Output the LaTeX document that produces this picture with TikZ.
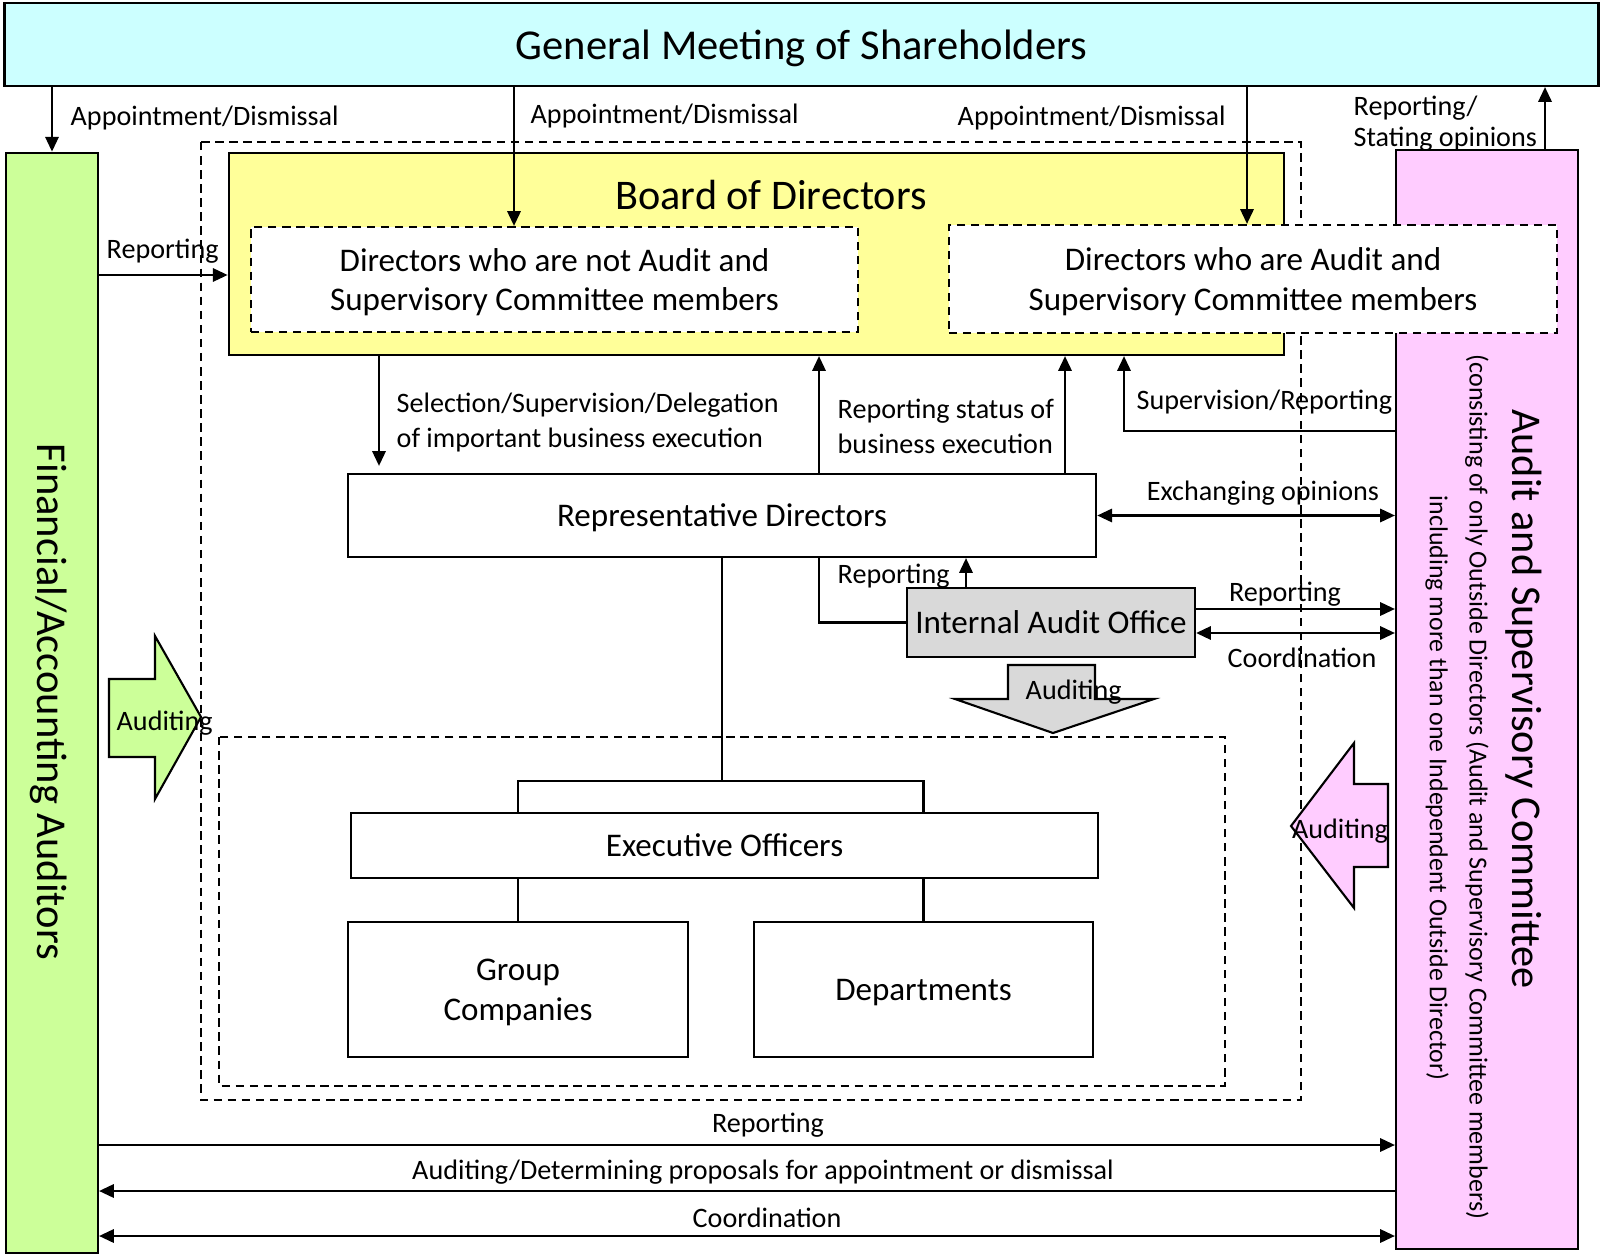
\documentclass[tikz,border=0pt]{standalone}
\usepackage{fontspec}
\setmainfont{Carlito}
\usetikzlibrary{arrows.meta}
\definecolor{meetingcyan}{RGB}{204,255,255}
\definecolor{auditorgreen}{RGB}{204,255,153}
\definecolor{committeepink}{RGB}{255,204,255}
\definecolor{boardyellow}{RGB}{255,255,153}
\definecolor{officegray}{RGB}{217,217,217}

\tikzset{
  box/.style={draw, line width=0.6pt, inner sep=0pt, align=center, text depth=0pt},
  dashbox/.style={box, fill=white, dash pattern=on 2.4pt off 1.6pt},
  arr/.style={line width=0.6pt, -{Triangle[width=3.8pt,length=4.2pt]}},
  twoarr/.style={line width=0.6pt, {Triangle[width=3.8pt,length=4.2pt]}-{Triangle[width=3.8pt,length=4.2pt]}},
  lbl/.style={font=\fontsize{8}{9.8}\selectfont, inner sep=0pt, align=left, yshift=-0.7pt},
  sidetext/.style={rotate=-90, inner sep=0pt},
  boxtext/.style={font=\fontsize{9.4}{11.3}\selectfont},
}

\begin{document}
\begin{tikzpicture}[x=0.01cm,y=-0.01cm]
\useasboundingbox (0,0) rectangle (1600,1255);
% Outer dashed frame
\draw[line width=0.6pt, dash pattern=on 2.4pt off 1.6pt] (201,142) rectangle (1301,1100);
% Draw the big boxes
\node[box, fill=meetingcyan, minimum width=15.93cm, minimum height=0.83cm,
  font=\fontsize{12.1}{13}\selectfont] (meeting) at (801.5,44.5) {General Meeting of Shareholders};
\node[box, fill=auditorgreen, minimum width=0.92cm, minimum height=11cm] (fin) at (52,703) {};
\node[box, fill=committeepink, minimum width=1.82cm, minimum height=10.99cm] (pink) at (1487,699.5) {};
\node[box, fill=boardyellow, minimum width=10.55cm, minimum height=2.02cm] (board) at (756.5,254) {};
\node[font=\fontsize{12}{13}\selectfont] (boardtitle) at (771,195) {Board of Directors};
\node[dashbox, boxtext, minimum width=6.07cm, minimum height=1.05cm] (notac) at (554.5,279.5)
  {Directors who are not Audit and\\Supervisory Committee members};
\node[dashbox, boxtext, minimum width=6.08cm, minimum height=1.08cm] (isac) at (1253,279)
  {Directors who are Audit and\\Supervisory Committee members};
% Rotated side texts
\node[sidetext, font=\fontsize{12.1}{13}\selectfont] (finlbl) at (49,702) {Financial/Accounting Auditors};
\node[sidetext, font=\fontsize{12.05}{13}\selectfont] (acclbl) at (1524,699) {Audit and Supervisory Committee};
\node[sidetext, font=\fontsize{7.4}{8.6}\selectfont] (acc2) at (1477,787) {(consisting of only Outside Directors (Audit and Supervisory Committee members)};
\node[sidetext, font=\fontsize{7.35}{8.6}\selectfont] (acc3) at (1437,788) {including more than one Independent Outside Director)};
% Executive side
\node[box, boxtext, fill=white, minimum width=7.48cm, minimum height=0.83cm] (rep) at (722,515.5) {Representative Directors};
\node[box, fill=officegray, minimum width=2.88cm, minimum height=0.69cm,
  font=\fontsize{9.4}{10}\selectfont] (iao) at (1051,622.5) {Internal Audit Office};
\draw[line width=0.6pt, dash pattern=on 2.4pt off 1.6pt] (219,737) rectangle (1225,1086);
\node[box, boxtext, fill=white, minimum width=7.47cm, minimum height=0.65cm] (exec) at (724.5,845.5) {Executive Officers};
\node[box, boxtext, fill=white, minimum width=3.40cm, minimum height=1.35cm] (group) at (518,989.5) {Group\\Companies};
\node[box, boxtext, fill=white, minimum width=3.39cm, minimum height=1.35cm] (dept) at (923.5,989.5) {Departments};
% Block arrows for auditing
\filldraw[fill=auditorgreen, line width=0.6pt] (109,679) -- (155,679) -- (155,636) -- (201,717)
  -- (155,799) -- (155,757) -- (109,757) -- cycle;
\node[lbl, anchor=west] (audg) at (116,721) {Auditing};
\filldraw[fill=officegray, line width=0.6pt] (1008,665) -- (1095,665) -- (1095,699) -- (1154,699)
  -- (1053,733) -- (955,699) -- (1008,699) -- cycle;
\node[lbl, anchor=west] (audi) at (1025,690) {Auditing};
\filldraw[fill=committeepink, line width=0.6pt] (1388,784) -- (1354,784) -- (1354,743) -- (1291,826)
  -- (1354,908) -- (1354,867) -- (1388,867) -- cycle;
\node[lbl] (audp) at (1340,829) {Auditing};
% Helper positions
\coordinate (xapf) at (52,0);
\coordinate (xapn) at (514,0);
\coordinate (xapi) at (1247,0);
\coordinate (xrgm) at (1545,0);
\coordinate (xsel) at (379,0);
\coordinate (xrb) at (819,0);
\coordinate (xst) at (1065,0);
\coordinate (xsup) at (1124,0);
\coordinate (xiu) at (966,0);
\coordinate (yrf) at (0,275);
\coordinate (ysup) at (0,431);
\coordinate (yir) at (0,609);
\coordinate (yic) at (0,633);
\coordinate (ybr) at (0,1145);
\coordinate (yba) at (0,1191);
\coordinate (ybc) at (0,1236);
\coordinate (split) at (722,781);
% Connectors
\draw[arr] (meeting.south -| xapf) -- (fin.north -| xapf);
\draw[arr] (meeting.south -| xapn) -- (notac.north -| xapn);
\draw[arr] (meeting.south -| xapi) -- (isac.north -| xapi);
\draw[arr] (pink.north -| xrgm) -- (meeting.south -| xrgm);
\draw[arr] (fin.east |- yrf) -- (board.west |- yrf);
\draw[arr, shorten >=2pt] (board.south -| xsel) -- (rep.north -| xsel);
\draw[arr] (rep.north -| xrb) -- (board.south -| xrb);
\draw[arr] (rep.north -| xst) -- (board.south -| xst);
\draw[arr] (pink.west |- ysup) -| (board.south -| xsup);
\draw[twoarr] (rep.east) -- (pink.west |- rep.east);
\draw[arr] (iao.north -| xiu) -- (rep.south -| xiu);
\draw[line width=0.6pt] (rep.south -| xrb) |- (iao.west);
\draw[arr] (iao.east |- yir) -- (pink.west |- yir);
\draw[twoarr] (iao.east |- yic) -- (pink.west |- yic);
\draw[line width=0.6pt] (rep.south) -- (split);
\draw[line width=0.6pt] (exec.north -| group.north) |- (split) -| (exec.north -| dept.north);
\draw[line width=0.6pt] (exec.south -| group.north) -- (group.north);
\draw[line width=0.6pt] (exec.south -| dept.north) -- (dept.north);
\draw[arr] (fin.east |- ybr) -- (pink.west |- ybr);
\draw[arr] (pink.west |- yba) -- (fin.east |- yba);
\draw[twoarr] (fin.east |- ybc) -- (pink.west |- ybc);
% Labels
\node[lbl, anchor=west] (lapf) at (70,116) {Appointment/Dismissal};
\node[lbl, anchor=west] (lapn) at (530,114) {Appointment/Dismissal};
\node[lbl, anchor=west] (lapi) at (957,116) {Appointment/Dismissal};
\node[lbl, anchor=west, font=\fontsize{8}{8.7}\selectfont] (lrgm) at (1353,121) {Reporting/\\Stating opinions};
\node[lbl, anchor=west] (lrf) at (106,249) {Reporting};
\node[lbl, anchor=west] (lsel) at (396,420) {Selection/Supervision/Delegation\\of important business execution};
\node[lbl, anchor=west] (lst) at (837,424) {Reporting status of\\business execution};
\node[lbl, anchor=west] (lsup) at (1136,400) {Supervision/Reporting};
\node[lbl] (lex) at (1263,491) {Exchanging opinions};
\node[lbl, anchor=west] (liu) at (837,574) {Reporting};
\node[lbl] (lir) at (1285,592) {Reporting};
\node[lbl] (lic) at (1302,655) {Coordination};
\node[lbl] (lbr) at (768,1123) {Reporting};
\node[lbl] (lba) at (763,1170) {Auditing/Determining proposals for appointment or dismissal};
\node[lbl] (lbc) at (767,1215) {Coordination};
\end{tikzpicture}
\end{document}
